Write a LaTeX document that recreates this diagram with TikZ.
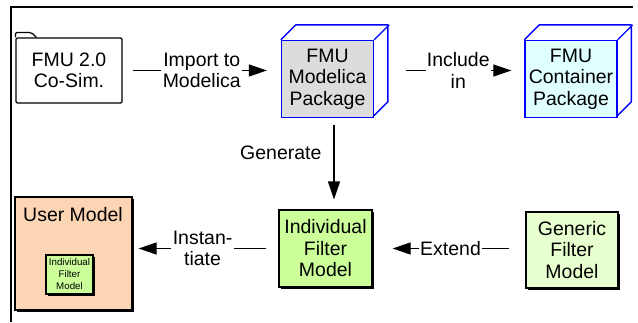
\documentclass[tikz,border=0pt]{standalone}
\usepackage{fontspec}
\setmainfont{Liberation Sans}
\usetikzlibrary{arrows.meta,shadows}
\definecolor{pkggray}{HTML}{DCDCDC}
\definecolor{pkgcyan}{HTML}{E0FFFF}
\definecolor{filtergreen}{HTML}{CCFF99}
\definecolor{genericgreen}{HTML}{E8FFD0}
\definecolor{userpeach}{HTML}{FCD5B5}
\begin{document}
\begin{tikzpicture}[x=0.75pt, y=-0.75pt,
    every node/.style={font=\fontsize{14.6}{16.1}\selectfont, align=center, inner sep=0pt},
    folder/.style={draw, line width=0.9pt, rounded corners=1pt},
    pkg/.style={draw=blue, line width=1pt, minimum width=69pt, minimum height=57.75pt},
    pkgline/.style={draw=blue, line width=1pt, line join=round},
    modelbox/.style={draw, line width=0.9pt,
        drop shadow={shadow xshift=1.2pt, shadow yshift=-1.2pt, fill=black, opacity=1}},
    lbl/.style={fill=white, inner xsep=1pt, inner ysep=2pt},
    flow/.style={line width=0.9pt, -{Triangle[length=13.5pt, width=9pt]}}]
    \def\px{0.75pt}
    \def\depth{15}
    \useasboundingbox (0,0) rectangle (638,322);
    \draw[line width=1.5pt] (11,322) -- (11,7) -- (633,7);
    % top row
    \node[folder, minimum width=106*\px, minimum height=65*\px] (fmu) at (69,70.5) {FMU 2.0\\Co-Sim.};
    \draw[line width=0.9pt, rounded corners=1.5pt] (fmu.north west) -- ++(0,-5) -- ++(16,0) -- ++(5,5);
    \node[pkg, fill=pkggray] (modelica) at (327.5,79) {FMU\\Modelica\\Package};
    \node[pkg, fill=pkgcyan] (container) at (571,79) {FMU\\Container\\Package};
    \foreach \n in {modelica,container}
        \draw[pkgline] (\n.north west) -- ++(\depth,-\depth) -- ++(92,0) -- ++(0,77) -- ++(-\depth,\depth)
            (\n.north east) -- ++(\depth,-\depth);
    % bottom row
    \node[modelbox, fill=filtergreen, minimum width=93*\px, minimum height=77*\px] (individual) at (325.5,248.5) {Individual\\Filter\\Model};
    \node[modelbox, fill=genericgreen, minimum width=92*\px, minimum height=76*\px] (generic) at (572,250) {Generic\\Filter\\Model};
    \node[modelbox, fill=userpeach, minimum width=117*\px, minimum height=113*\px] (user) at (73.5,253.5) {};
    \node (userlbl) at (73,215) {User Model};
    \node[modelbox, fill=filtergreen, minimum width=47*\px, minimum height=39*\px,
        font=\fontsize{7.3}{9}\selectfont,
        drop shadow={shadow xshift=0.9pt, shadow yshift=-0.9pt, fill=black, opacity=1}] (inner) at (69.5,274.5) {Individual\\Filter\\Model};
    % connectors
    \coordinate (gen) at (334,0);
    \draw[flow, shorten <=7.5pt, shorten >=10.5pt] (fmu.east) -- node[lbl] {Import to\\Modelica} (fmu.east -| modelica.west);
    \draw[flow, shorten <=23.6pt, shorten >=9.75pt] (fmu.east -| modelica.east) -- node[lbl, pos=.56] {Include\\in} (fmu.east -| container.west);
    \draw[flow, shorten <=4.9pt, shorten >=7.5pt] (modelica.south -| gen) -- node[pos=.38, left=9pt] {Generate} (individual.north -| gen);
    \draw[flow, shorten <=12pt, shorten >=15pt] (individual.east -| generic.west) -- node[lbl, pos=.49] {Extend} (individual.east);
    \draw[flow, shorten <=9pt, shorten >=4.5pt] (individual.west) -- node[lbl, pos=.52] {Instan-\\tiate} (individual.west -| user.east);
\end{tikzpicture}
\end{document}
